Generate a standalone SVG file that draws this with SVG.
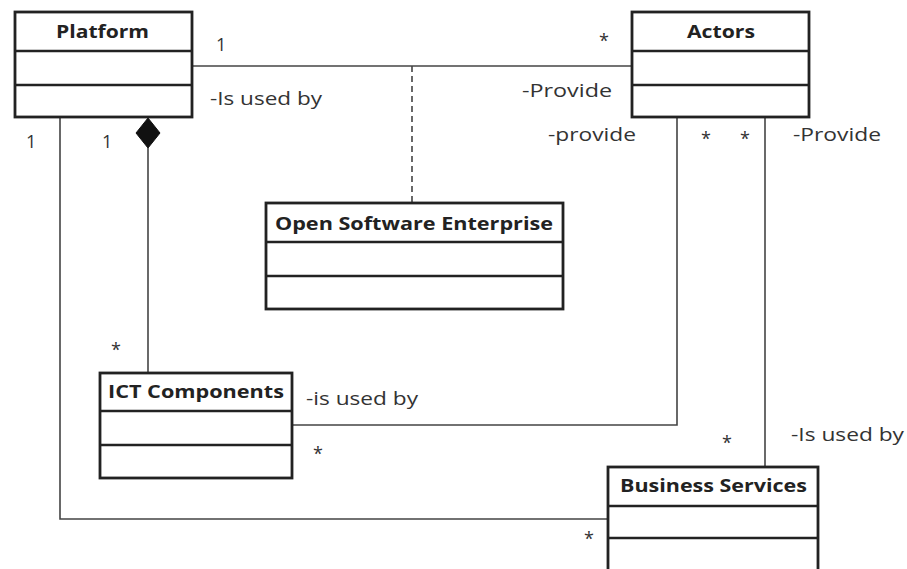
<svg xmlns="http://www.w3.org/2000/svg" width="907" height="569" viewBox="0 0 907 569">
<style>
.box{fill:#fff;stroke:#222;stroke-width:2.8}
.div{stroke:#222;stroke-width:2.5}
.t{font-family:"Open Sans","DejaVu Sans",sans-serif;font-weight:bold;font-size:18px;fill:#222}
.l{font-family:"Open Sans","DejaVu Sans",sans-serif;font-size:18px;fill:#333}
.c{fill:none;stroke:#444;stroke-width:1.6}
</style>
<rect width="907" height="569" fill="#fff"/>
<g id="connectors">
<line class="c" x1="192" y1="66" x2="632" y2="66"/>
<line class="c" x1="412" y1="66" x2="412" y2="203" stroke-dasharray="6,4"/>
<polyline class="c" points="60,118 60,519 608,519"/>
<line class="c" x1="148" y1="148" x2="148" y2="373"/>
<polygon points="148,118 160,133 148,148 136,133" fill="#111" stroke="#111" stroke-width="1"/>
<polyline class="c" points="677,117 677,425 292,425"/>
<line class="c" x1="765" y1="117" x2="765" y2="467"/>
<text class="l" x="216" y="51">1</text>
<text class="l" x="210" y="105" textLength="112" lengthAdjust="spacingAndGlyphs">-Is used by</text>
<text class="l" x="26" y="148">1</text>
<text class="l" x="102" y="148">1</text>
<text class="l" x="599" y="47">*</text>
<text class="l" x="522" y="97" textLength="90" lengthAdjust="spacingAndGlyphs">-Provide</text>
<text class="l" x="548" y="141" textLength="88" lengthAdjust="spacingAndGlyphs">-provide</text>
<text class="l" x="701" y="145">*</text>
<text class="l" x="740" y="145">*</text>
<text class="l" x="793" y="141" textLength="88" lengthAdjust="spacingAndGlyphs">-Provide</text>
<text class="l" x="111" y="356">*</text>
<text class="l" x="306" y="405" textLength="112" lengthAdjust="spacingAndGlyphs">-is used by</text>
<text class="l" x="313" y="460">*</text>
<text class="l" x="722" y="449">*</text>
<text class="l" x="791" y="441" textLength="113" lengthAdjust="spacingAndGlyphs">-Is used by</text>
<text class="l" x="584" y="545">*</text>
</g>
<g id="platform">
<rect class="box" x="15" y="12" width="177" height="105"/>
<line class="div" x1="15" y1="51" x2="192" y2="51"/>
<line class="div" x1="15" y1="85" x2="192" y2="85"/>
<text class="t" x="56" y="38" textLength="93" lengthAdjust="spacingAndGlyphs">Platform</text>
</g>
<g id="actors">
<rect class="box" x="632" y="12" width="177" height="105"/>
<line class="div" x1="632" y1="51" x2="809" y2="51"/>
<line class="div" x1="632" y1="85" x2="809" y2="85"/>
<text class="t" x="687" y="38" textLength="68" lengthAdjust="spacingAndGlyphs">Actors</text>
</g>
<g id="open-software-enterprise">
<rect class="box" x="266" y="203" width="297" height="106"/>
<line class="div" x1="266" y1="242" x2="563" y2="242"/>
<line class="div" x1="266" y1="276" x2="563" y2="276"/>
<text class="t" x="275" y="230" textLength="278" lengthAdjust="spacingAndGlyphs">Open Software Enterprise</text>
</g>
<g id="ict-components">
<rect class="box" x="100" y="373" width="192" height="105"/>
<line class="div" x1="100" y1="411" x2="292" y2="411"/>
<line class="div" x1="100" y1="445" x2="292" y2="445"/>
<text class="t" x="108" y="398" textLength="176" lengthAdjust="spacingAndGlyphs">ICT Components</text>
</g>
<g id="business-services">
<rect class="box" x="608" y="467" width="210" height="115"/>
<line class="div" x1="608" y1="506" x2="818" y2="506"/>
<line class="div" x1="608" y1="538" x2="818" y2="538"/>
<text class="t" x="620" y="492" textLength="187" lengthAdjust="spacingAndGlyphs">Business Services</text>
</g>
</svg>
